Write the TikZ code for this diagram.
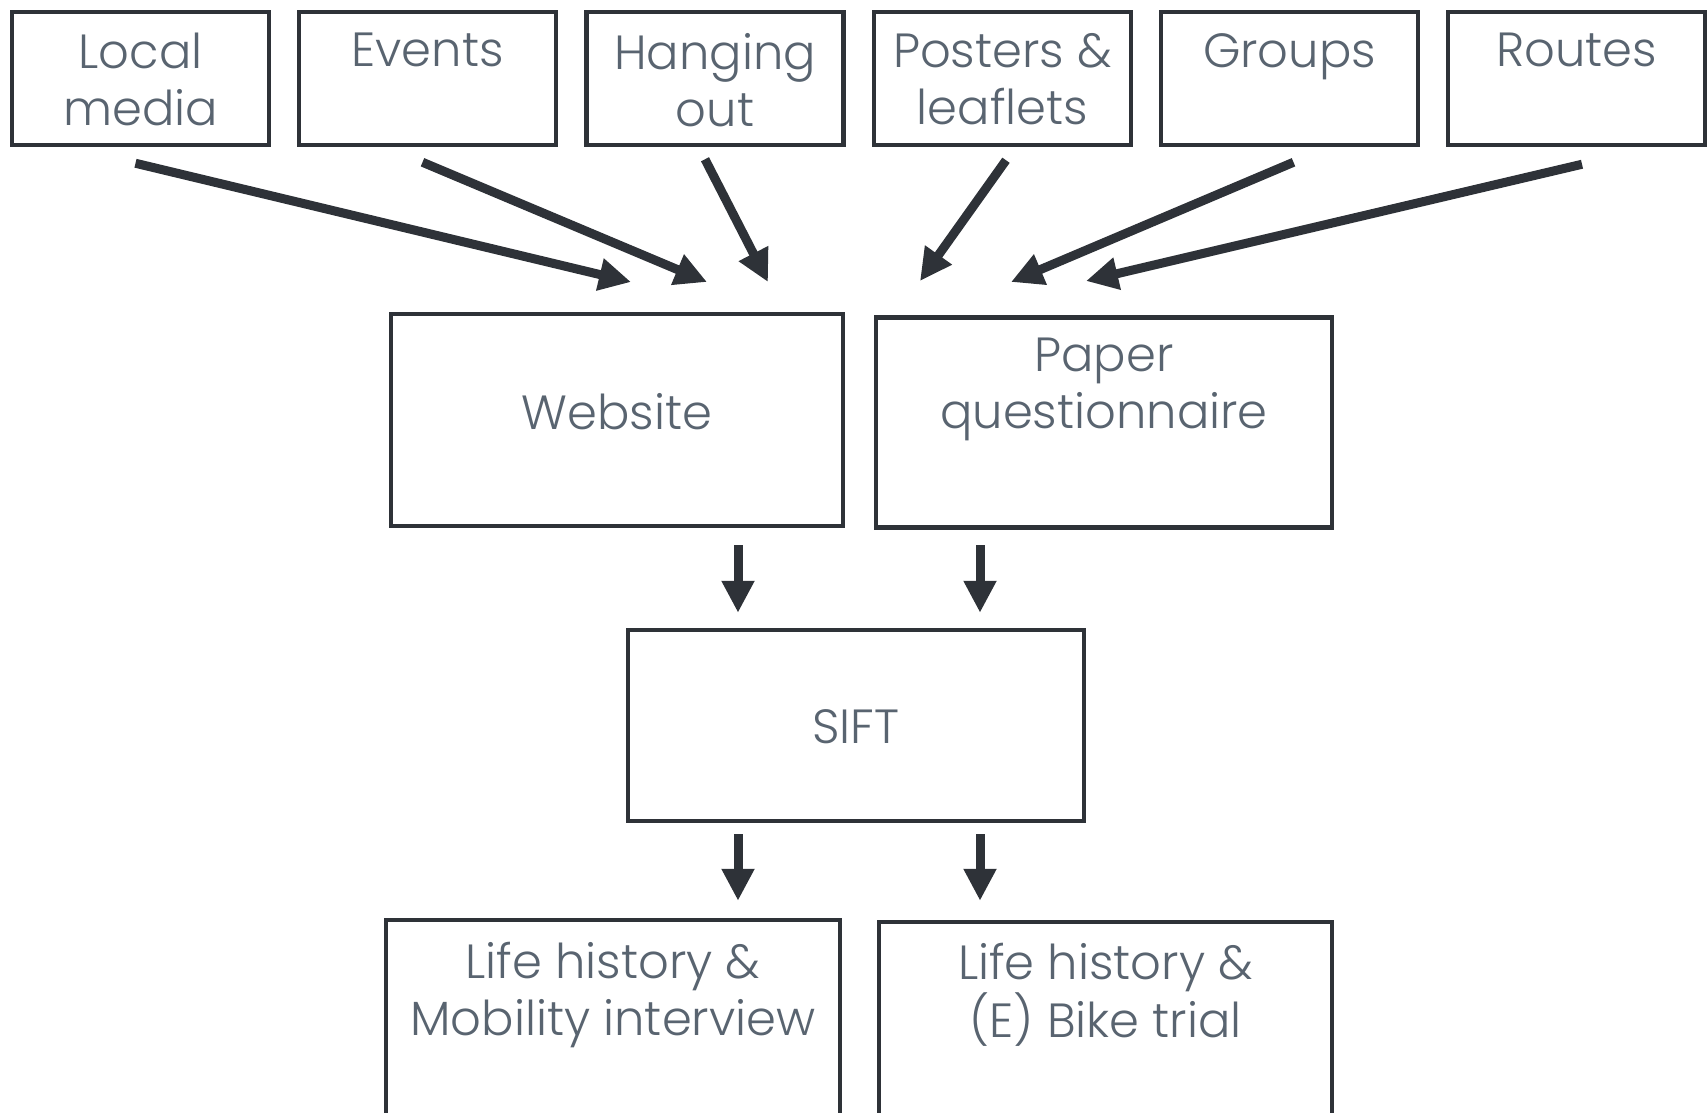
\documentclass[tikz,border=0pt]{standalone}
\usepackage{fontspec}
\setmainfont{Poppins}[UprightFont={* Light}]
\usetikzlibrary{arrows.meta}
\definecolor{ink}{RGB}{46,50,56}
\definecolor{lbl}{RGB}{89,100,112}
\tikzset{
  box/.style={draw=ink,line width=4.5pt,inner sep=0pt},
  top/.style={box,minimum width=257pt,minimum height=133pt},
  txt/.style={text=lbl,font=\fontsize{48}{57}\selectfont,align=center,anchor=north,inner sep=0pt},
  arr/.style={draw=ink,line width=9pt,-{Triangle[length=32pt,width=31pt]}}
}
\begin{document}
\begin{tikzpicture}[x=1pt,y=-1pt]
\clip (0,0) rectangle (1707,1112);
\node[top] (M) at (140.5,78.5) {};
\node[top] (E) at (427.5,78.5) {};
\node[top] (H) at (715,78.5) {};
\node[top] (P) at (1002.5,78.5) {};
\node[top] (G) at (1289.5,78.5) {};
\node[top] (R) at (1576.5,78.5) {};
\node[txt] (Mt) at (140.5,33) {Local\\media};
\node[txt] (Et) at (427.5,33) {Events};
\node[txt] (Ht) at (715,33) {Hanging\\out};
\node[txt] (Pt) at (1002.5,33) {Posters \&\\leaflets};
\node[txt] (Gt) at (1289.5,33) {Groups};
\node[txt] (Rt) at (1576.5,33) {Routes};
\node[box,minimum width=452pt,minimum height=212pt] (W) at (617,420) {};
\node[txt] (Wt) at (617,393) {Website};
\node[box,minimum width=456pt,minimum height=210pt] (Q) at (1104,422.5) {};
\node[txt] (Qt) at (1104,338) {Paper\\questionnaire};
\node[box,minimum width=456pt,minimum height=191pt] (S) at (856,725.5) {};
\node[txt] (St) at (856,709) {SIFT};
\node[box,minimum width=454pt,minimum height=210pt] (L) at (613,1025) {};
\node[txt] (Lt) at (613,942) {Life history \&\\Mobility interview};
\node[box,minimum width=453pt,minimum height=210pt] (B) at (1105.5,1027) {};
\node[txt] (Bt) at (1105.5,943) {Life history \&\\(E) Bike trial};
\coordinate (w1) at (631,282);
\coordinate (w2) at (707,282);
\coordinate (w3) at (768,282);
\coordinate (q1) at (920,281);
\coordinate (q2) at (1011,282);
\coordinate (q3) at (1086,281);
\draw[arr] ([shift={(-5,16)}]M.south) -- (w1);
\draw[arr] ([shift={(-5,15)}]E.south) -- (w2);
\draw[arr] ([shift={(-10,12)}]H.south) -- (w3);
\draw[arr] ([shift={(3.5,13)}]P.south) -- (q1);
\draw[arr] ([shift={(4,15)}]G.south) -- (q2);
\draw[arr] ([shift={(5.5,17)}]R.south) -- (q3);
\draw[arr] ([shift={(121,17)}]W.south) -- ([shift={(-118,-15)}]S.north);
\draw[arr] ([shift={(-124,15.5)}]Q.south) -- ([shift={(124,-15)}]S.north);
\draw[arr] ([shift={(-118,11)}]S.south) -- ([shift={(125,-17)}]L.north);
\draw[arr] ([shift={(124,11)}]S.south) -- ([shift={(-125.5,-19)}]B.north);
\end{tikzpicture}
\end{document}
